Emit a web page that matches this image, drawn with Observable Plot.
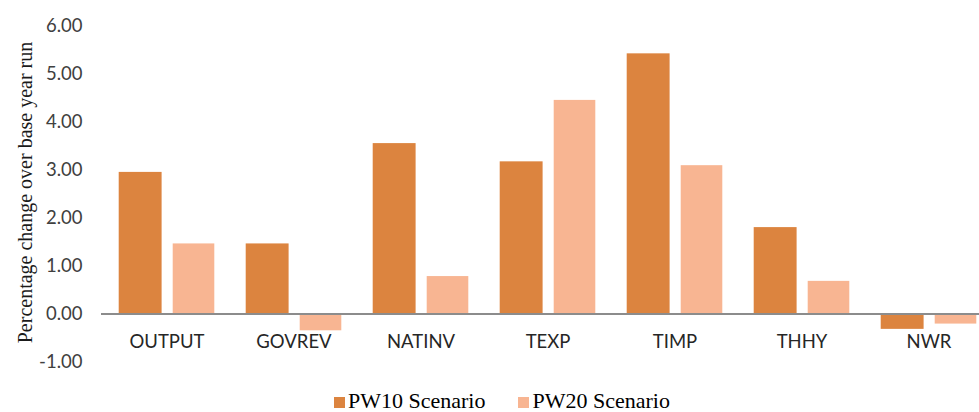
<!DOCTYPE html>
<html>
<head>
<meta charset="utf-8">
<script src="https://cdn.jsdelivr.net/npm/d3@7"></script>
<script src="https://cdn.jsdelivr.net/npm/@observablehq/plot@0.6"></script>
<style>
  html, body { margin: 0; padding: 0; background: #fff; }
  #chart { width: 979px; height: 412px; overflow: hidden; position: relative; }
  #legend { height: 28px; padding-top: 5px; padding-left: 334px; font-family: "Liberation Serif", "Times New Roman", serif; font-size: 22px; line-height: 24px; color: #000; white-space: nowrap; }
  #legend .item { display: inline-block; margin-right: 33px; }
  #legend .sw { display: inline-block; width: 11px; height: 11px; margin-right: 3px; vertical-align: baseline; }
</style>
</head>
<body>
<div id="chart"></div>
<script>
const categories = ["OUTPUT", "GOVREV", "NATINV", "TEXP", "TIMP", "THHY", "NWR"];
const pw10 = [2.95, 1.46, 3.55, 3.17, 5.42, 1.80, -0.32];
const pw20 = [1.46, -0.35, 0.78, 4.45, 3.09, 0.68, -0.21];
const seriesNames = ["PW10 Scenario", "PW20 Scenario"];
const seriesColors = ["#DC843F", "#F8B592"];
const yTicks = [-1, 0, 1, 2, 3, 4, 5, 6];
const yTitle = "Percentage change over base year run";

const rows10 = categories.map((c, i) => ({category: c, value: pw10[i], series: seriesNames[0]}));
const rows20 = categories.map((c, i) => ({category: c, value: pw20[i], series: seriesNames[1]}));

const plot = Plot.plot({
  width: 979,
  height: 384,
  marginLeft: 101,
  marginRight: 0,
  marginTop: 25.5,
  marginBottom: 22.5,
  style: {background: "#fff", overflow: "hidden"},
  x: {type: "band", domain: categories, range: [101.3, 993.3], padding: 0, axis: null},
  y: {domain: [-1, 6], axis: null},
  marks: [
    Plot.barY(rows10, {x: "category", y: "value", fill: seriesColors[0], insetLeft: 15.7, insetRight: 68.4}),
    Plot.barY(rows20, {x: "category", y: "value", fill: seriesColors[1], insetLeft: 69.7, insetRight: 15.7}),
    Plot.ruleY([0], {stroke: "#8c8c8c", strokeWidth: 2}),
    Plot.axisY({ticks: yTicks, tickFormat: d => d.toFixed(2), tickSize: 0, tickPadding: 19, label: null,
      fontSize: 18.5, fontFamily: "Lato, sans-serif", fill: "#404040"}),
    Plot.text(categories, {x: d => d, y: 0, dy: 28, lineAnchor: "middle", fontSize: 18.5,
      fontFamily: "Lato, sans-serif", fill: "#262626"}),
    Plot.text([yTitle], {frameAnchor: "left", textAnchor: "middle", lineAnchor: "middle", rotate: -90, dx: -76, dy: -1.5, fontSize: 20,
      lineWidth: 100, fontFamily: "'Liberation Serif', 'Times New Roman', serif", fill: "#1a1a1a"})
  ]
});
document.getElementById("chart").appendChild(plot);

const legend = document.createElement("div");
legend.id = "legend";
seriesNames.forEach((name, i) => {
  const item = document.createElement("span");
  item.className = "item";
  const sw = document.createElement("span");
  sw.className = "sw";
  sw.style.background = seriesColors[i];
  item.appendChild(sw);
  item.appendChild(document.createTextNode(name));
  legend.appendChild(item);
});
document.getElementById("chart").appendChild(legend);
</script>
</body>
</html>
